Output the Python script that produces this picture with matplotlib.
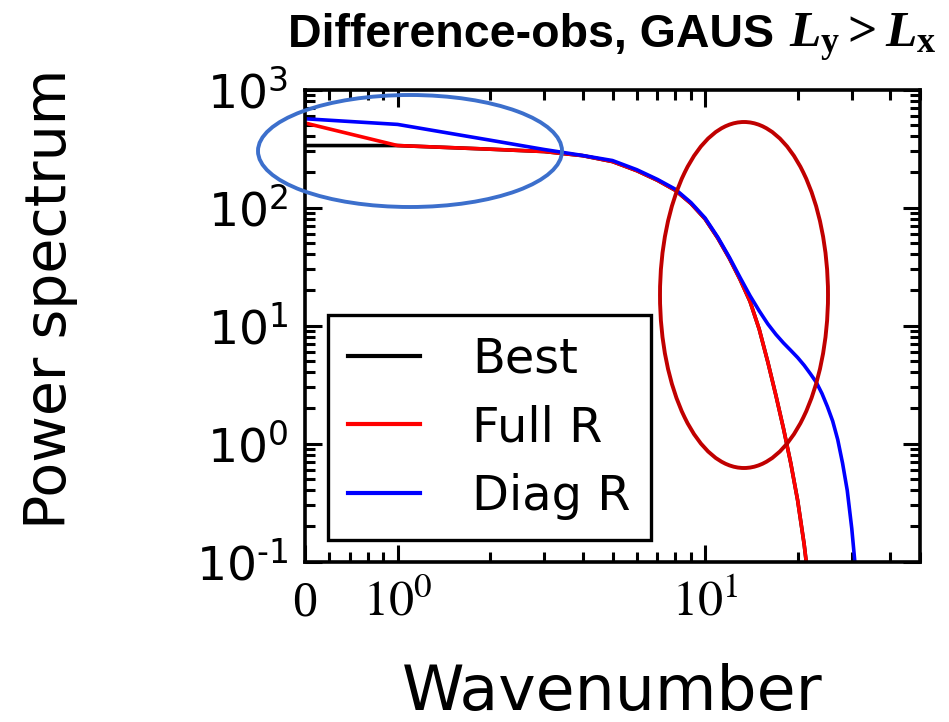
import matplotlib
matplotlib.use("Agg")
import matplotlib.pyplot as plt
from matplotlib.patches import Ellipse
from matplotlib.ticker import LogLocator, NullFormatter, FixedLocator, FixedFormatter

# mathtext used in the title: bold Times-like letters
plt.rcParams["mathtext.rm"] = "Liberation Serif:bold"
plt.rcParams["mathtext.it"] = "Liberation Serif:italic:bold"
plt.rcParams["mathtext.bf"] = "Liberation Serif:bold"

# wavenumber 0 is drawn at 0.5 on the log axis
wavenumber = [0.5, 1, 2, 3, 4, 5, 6, 7, 8, 9, 10, 11, 12, 13, 14, 15, 16,
              17, 18, 19, 20, 21, 22, 23, 24, 25, 26, 27, 28, 29, 30, 31, 32]

best = [335, 335, 312, 298, 275, 245, 205, 170, 140, 108, 80, 55, 37, 24.5,
        16.0, 9.3, 4.9, 2.55, 1.33, 0.68, 0.33, 0.14, 0.05, 0.015, 0.005,
        0.002, 0.001, 0.0005, 0.0002, 0.0001, 0.00005, 0.00002, 0.00001]
full_r = [520, 335, 312, 298, 275, 245, 205, 170, 140, 108, 80, 55, 37, 24.5,
          16.0, 9.3, 4.9, 2.55, 1.33, 0.68, 0.33, 0.14, 0.05, 0.015, 0.005,
          0.002, 0.001, 0.0005, 0.0002, 0.0001, 0.00005, 0.00002, 0.00001]
diag_r = [565, 506, 372, 310, 276, 250, 209, 173, 143, 110, 81.5, 56, 37.8, 25.5,
          17.9, 13.3, 10.3, 8.4, 7.1, 6.15, 5.35, 4.6, 3.9, 3.3, 2.65, 2.05,
          1.55, 1.08, 0.68, 0.4, 0.19, 0.075, 0.025]

series = [("Best", best, "k"), ("Full R", full_r, "#ff0000"), ("Diag R", diag_r, "#0000ff")]

x_ticks = [0.5, 1, 10]
x_ticklabels = ["0", r"$10^0$", r"$10^1$"]
y_ticks = [0.1, 1, 10, 100, 1000]
y_ticklabels = ["$10^{\u20101}$", r"$10^0$", r"$10^1$", r"$10^2$", r"$10^3$"]

W, H = 949, 722
fig = plt.figure(figsize=(W / 100, H / 100), dpi=100)
ax = fig.add_axes([305 / W, (H - 561.5) / H, 615 / W, 472 / H])

for name, vals, col in series:
    ax.plot(wavenumber, vals, color=col, lw=2.6, label=name)

ax.set_xscale("log")
ax.set_yscale("log")
ax.set_xlim(0.5, 50)
ax.set_ylim(0.1, 1000)

ax.xaxis.set_major_locator(FixedLocator(x_ticks))
ax.xaxis.set_major_formatter(FixedFormatter(x_ticklabels))
ax.xaxis.set_minor_locator(LogLocator(base=10, subs=range(2, 10), numticks=20))
ax.xaxis.set_minor_formatter(NullFormatter())
ax.yaxis.set_major_locator(FixedLocator(y_ticks))
ax.yaxis.set_major_formatter(FixedFormatter(y_ticklabels))
ax.yaxis.set_minor_locator(LogLocator(base=10, subs=range(2, 10), numticks=20))
ax.yaxis.set_minor_formatter(NullFormatter())

for s in ax.spines.values():
    s.set_linewidth(2.6)
ax.tick_params(which="both", direction="in", top=True, right=True, width=2.2)
ax.tick_params(which="major", length=12)
ax.tick_params(which="minor", length=7)
ax.tick_params(axis="y", which="major", labelsize=34, pad=12)
ax.tick_params(axis="x", which="major", labelsize=36, pad=13)
for lab in ax.get_xticklabels():
    lab.set_math_fontfamily("stix")
    lab.set_fontfamily("Liberation Serif")

ax.set_xlabel("Wavenumber", fontsize=45.5, va="baseline")
ax.set_ylabel("Power spectrum", fontsize=41)
ax.xaxis.set_label_coords(0.5, -(710 - 561.5) / 472)
ax.yaxis.set_label_coords(-(305 - 78) / 615, (561.5 - 299) / 472)

leg = ax.legend(loc="lower left", bbox_to_anchor=(0.037, 0.046), borderaxespad=0,
                fontsize=34.5, fancybox=False, framealpha=1, edgecolor="k",
                handlelength=1.5, handletextpad=1.1, labelspacing=0.45,
                borderpad=0.42)
leg.get_frame().set_linewidth(2.4)
for h in leg.get_lines():
    h.set_linewidth(3.0)

# title: sans-serif words followed by the serif length-scale comparison
title_main = fig.text(288 / W, 1 - 47 / H, "Difference-obs, GAUS ",
                      fontsize=33.5, fontweight="bold", family="Liberation Sans",
                      ha="left", va="baseline")
renderer = fig.canvas.get_renderer()
bb = title_main.get_window_extent(renderer)
fig.text(bb.x1 / W + 0.002, 1 - 47 / H, r"$L_\mathbf{y} > L_\mathbf{x}$",
         fontsize=37, math_fontfamily="custom", ha="left", va="baseline")

# highlight ellipses
def fig_ellipse(cx, cy, w, h, color):
    e = Ellipse((cx / W, 1 - cy / H), w / W, h / H, transform=fig.transFigure,
                fill=False, edgecolor=color, lw=2.8, zorder=10)
    fig.add_artist(e)

fig_ellipse(410, 151, 304, 112, "#3c6fcc")
fig_ellipse(744, 295, 168, 346, "#c00000")

fig.savefig("out.png", dpi=100)
